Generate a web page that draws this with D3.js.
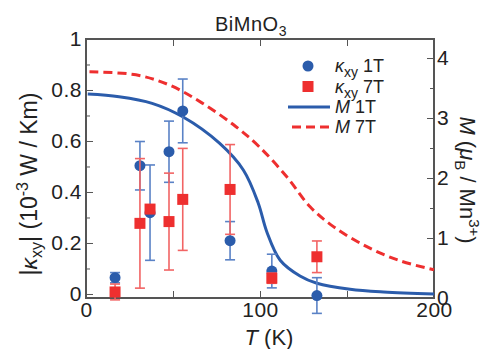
<!DOCTYPE html>
<html>
<head>
<meta charset="utf-8">
<script src="https://cdn.jsdelivr.net/npm/d3@7"></script>
<style>
  body { margin: 0; background: #fff; }
  svg { font-family: Arial, "Liberation Sans", sans-serif; }
  .axis path, .axis line { stroke: #555; }
  .axis text { font-size: 21px; letter-spacing: 0.5px; fill: #222; font-family: Arial, "Liberation Sans", sans-serif; }
</style>
</head>
<body>
<svg width="489" height="349"></svg>
<script>
// kappa_xy data points (T in K)
var tempK   = [16.7, 31.0, 36.8, 47.7, 55.6, 82.8, 106.8, 132.7];
var kxy1T   = [0.064, 0.503, 0.319, 0.558, 0.718, 0.209, 0.090, -0.006];
var err1T   = [0.020, 0.095, 0.187, 0.120, 0.125, 0.075, 0.066, 0.070];
var kxy7T   = [0.008, 0.277, 0.333, 0.284, 0.371, 0.410, 0.062, 0.146];
var err7T   = [0.031, 0.254, 0.015, 0.190, 0.200, 0.176, 0.020, 0.062];

// magnetization curves
var tempM1T = [1, 19, 38, 55.6, 76.7, 90.5, 99, 103.9, 111.6, 123, 132.7, 151.8, 171, 200];
var m1T     = [3.40, 3.355, 3.245, 3.02, 2.58, 2.13, 1.58, 1.105, 0.63, 0.367, 0.245, 0.145, 0.10, 0.067];
var tempM7T = [2, 28.7, 47.9, 67, 86.2, 99.6, 115.4, 128.8, 142.2, 161.4, 180.5, 200];
var m7T     = [3.77, 3.72, 3.55, 3.245, 2.855, 2.52, 2.02, 1.52, 1.19, 0.855, 0.62, 0.47];

var xTicks = [0, 100, 200];
var kTicks = [0, 0.2, 0.4, 0.6, 0.8, 1];
var mTicks = [0, 1, 2, 3, 4];

var blue = "#2b5cab";
var red = "#ee2f2f";

var pLeft = 86, pRight = 434, pTop = 39, pBottom = 298;

var svg = d3.select("svg");

var xScale = d3.scaleLinear().domain([0, 200]).range([pLeft, pRight]);
var yScale = d3.scaleLinear().domain([-0.0157, 1]).range([pBottom, pTop]);
var mScale = d3.scaleLinear().domain([0, 4.317]).range([pBottom, pTop]);

// frame
svg.append("rect")
    .attr("x", pLeft).attr("y", pTop)
    .attr("width", pRight - pLeft).attr("height", pBottom - pTop)
    .attr("fill", "none").attr("stroke", "#555").attr("stroke-width", 2);

// bottom axis
svg.append("g").attr("class", "axis")
    .attr("transform", "translate(0," + pBottom + ")")
    .call(d3.axisBottom(xScale).tickValues([0, 50, 100, 150, 200]).tickSize(-7).tickPadding(4)
        .tickFormat(d => xTicks.indexOf(d) >= 0 ? d : ""))
    .call(g => g.select(".domain").remove());

// top ticks
svg.append("g").attr("class", "axis")
    .attr("transform", "translate(0," + pTop + ")")
    .call(d3.axisTop(xScale).tickValues([50, 100, 150]).tickSize(-7).tickFormat(""))
    .call(g => g.select(".domain").remove());

// left axis
svg.append("g").attr("class", "axis")
    .attr("transform", "translate(" + pLeft + ",0)")
    .call(d3.axisLeft(yScale).tickValues(kTicks).tickSize(-7).tickPadding(4)
        .tickFormat(d => d === 0 || d === 1 ? d : d3.format(".1f")(d)))
    .call(g => g.select(".domain").remove());
svg.append("g").attr("class", "axis")
    .attr("transform", "translate(" + pLeft + ",0)")
    .call(d3.axisLeft(yScale).tickValues([0.1, 0.3, 0.5, 0.7, 0.9]).tickSize(-4).tickFormat(""))
    .call(g => g.select(".domain").remove());

// right axis
svg.append("g").attr("class", "axis")
    .attr("transform", "translate(" + pRight + ",0)")
    .call(d3.axisRight(mScale).tickValues(mTicks).tickSize(-7).tickPadding(3).tickFormat(d3.format("d")))
    .call(g => g.select(".domain").remove());
svg.append("g").attr("class", "axis")
    .attr("transform", "translate(" + pRight + ",0)")
    .call(d3.axisRight(mScale).tickValues([0.5, 1.5, 2.5, 3.5]).tickSize(-4).tickFormat(""))
    .call(g => g.select(".domain").remove());

// M curves
var line = d3.line().x(d => xScale(d[0])).y(d => mScale(d[1])).curve(d3.curveCatmullRom.alpha(0.5));

svg.append("path")
    .attr("d", line(d3.zip(tempM7T, m7T)))
    .attr("fill", "none").attr("stroke", red)
    .attr("stroke-width", 3).attr("stroke-dasharray", "9,5");

svg.append("path")
    .attr("d", line(d3.zip(tempM1T, m1T)))
    .attr("fill", "none").attr("stroke", blue)
    .attr("stroke-width", 3);

// error bars + markers
function drawSeries(vals, errs, color, barColor, shape) {
    var g = svg.append("g");
    var pts = tempK.map((t, i) => ({t: t, v: vals[i], e: errs[i]}));
    var eb = g.selectAll(".eb").data(pts).enter().append("g")
        .attr("stroke", barColor).attr("stroke-width", 1.6);
    eb.append("line")
        .attr("x1", d => xScale(d.t)).attr("x2", d => xScale(d.t))
        .attr("y1", d => yScale(d.v - d.e)).attr("y2", d => yScale(d.v + d.e));
    eb.append("line")
        .attr("x1", d => xScale(d.t) - 5).attr("x2", d => xScale(d.t) + 5)
        .attr("y1", d => yScale(d.v + d.e)).attr("y2", d => yScale(d.v + d.e));
    eb.append("line")
        .attr("x1", d => xScale(d.t) - 5).attr("x2", d => xScale(d.t) + 5)
        .attr("y1", d => yScale(d.v - d.e)).attr("y2", d => yScale(d.v - d.e));
    if (shape === "circle") {
        g.selectAll("circle").data(pts).enter().append("circle")
            .attr("cx", d => xScale(d.t)).attr("cy", d => yScale(d.v))
            .attr("r", 5.5).attr("fill", color);
    } else {
        g.selectAll("rect").data(pts).enter().append("rect")
            .attr("x", d => xScale(d.t) - 5.5).attr("y", d => yScale(d.v) - 5.5)
            .attr("width", 11).attr("height", 11).attr("fill", color);
    }
}
drawSeries(kxy1T, err1T, blue, "#5a82c6", "circle");
drawSeries(kxy7T, err7T, red, "#f26464", "square");

// legend
var leg = svg.append("g").style("font-size", "18px").attr("fill", "#222");
leg.append("circle").attr("cx", 308).attr("cy", 66).attr("r", 5.5).attr("fill", blue);
leg.append("rect").attr("x", 302.5).attr("y", 81).attr("width", 11).attr("height", 11).attr("fill", red);
leg.append("line").attr("x1", 288).attr("x2", 330).attr("y1", 107).attr("y2", 107)
    .attr("stroke", blue).attr("stroke-width", 3);
leg.append("line").attr("x1", 292).attr("x2", 330).attr("y1", 127).attr("y2", 127)
    .attr("stroke", red).attr("stroke-width", 3).attr("stroke-dasharray", "9,5");

function kappaLabel(t, field) {
    t.append("tspan").attr("font-style", "italic").text("κ");
    t.append("tspan").attr("dy", 5).style("font-size", "14px").text("xy");
    t.append("tspan").attr("dy", -5).text(" " + field);
}
kappaLabel(leg.append("text").attr("x", 335).attr("y", 72), "1T");
kappaLabel(leg.append("text").attr("x", 335).attr("y", 93), "7T");
var t1 = leg.append("text").attr("x", 335).attr("y", 113);
t1.append("tspan").attr("font-style", "italic").text("M");
t1.append("tspan").text(" 1T");
var t2 = leg.append("text").attr("x", 335).attr("y", 133);
t2.append("tspan").attr("font-style", "italic").text("M");
t2.append("tspan").text(" 7T");

// title
var title = svg.append("text").attr("x", 251).attr("y", 31)
    .attr("text-anchor", "middle").style("font-size", "20px").style("letter-spacing", "0.5px").attr("fill", "#222");
title.append("tspan").text("BiMnO");
title.append("tspan").attr("dy", 5).style("font-size", "14px").text("3");

// x label
var xl = svg.append("text").attr("x", 269).attr("y", 345)
    .attr("text-anchor", "middle").style("font-size", "22px").attr("fill", "#222");
xl.append("tspan").attr("font-style", "italic").text("T");
xl.append("tspan").text(" (K)");

// left y label
var yl = svg.append("text").attr("transform", "translate(37,184) rotate(-90)")
    .attr("text-anchor", "middle").style("font-size", "23px").attr("fill", "#222");
yl.append("tspan").text("|");
yl.append("tspan").attr("font-style", "italic").text("κ");
yl.append("tspan").attr("dy", 5).style("font-size", "16px").text("xy");
yl.append("tspan").attr("dy", -5).text("| (10");
yl.append("tspan").attr("dy", -9).style("font-size", "16px").text("-3");
yl.append("tspan").attr("dy", 9).text(" W / Km)");

// right y label
var yr = svg.append("text").attr("transform", "translate(460,180) rotate(90)")
    .attr("text-anchor", "middle").style("font-size", "22px").attr("fill", "#222");
yr.append("tspan").attr("font-style", "italic").text("M");
yr.append("tspan").text(" (");
yr.append("tspan").attr("font-style", "italic").text("μ");
yr.append("tspan").attr("dy", 5).style("font-size", "15px").text("B");
yr.append("tspan").attr("dy", -5).text(" / Mn");
yr.append("tspan").attr("dy", -9).style("font-size", "15px").text("3+");
yr.append("tspan").attr("dy", 9).text(")");
</script>
</body>
</html>
